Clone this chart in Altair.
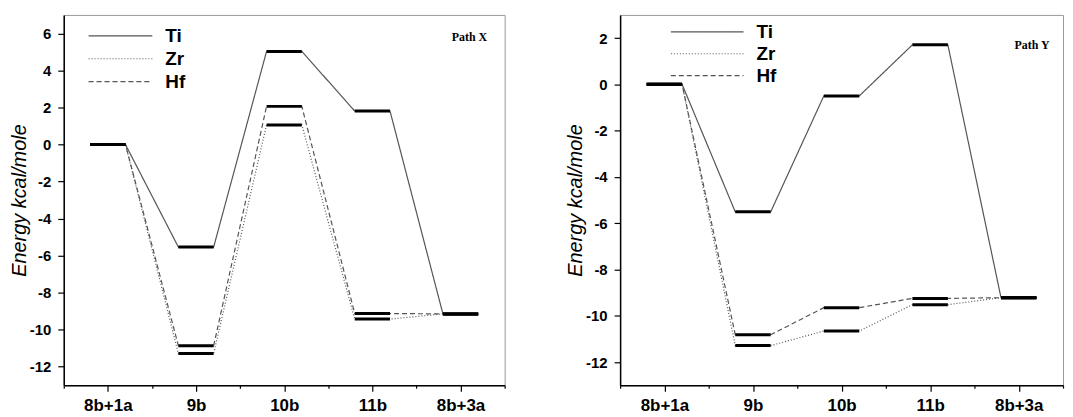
import json
import altair as alt
import pandas as pd

categories = ["8b+1a", "9b", "10b", "11b", "8b+3a"]
series_names = ["Ti", "Zr", "Hf"]

pathX_Ti = [0.0, -5.54, 5.03, 1.81, -9.15]
pathX_Zr = [0.0, -11.29, 1.06, -9.43, -9.15]
pathX_Hf = [0.0, -10.87, 2.06, -9.13, -9.15]

pathY_Ti = [0.0, -5.51, -0.50, 1.71, -9.22]
pathY_Zr = [0.0, -11.29, -10.66, -9.52, -9.22]
pathY_Hf = [0.0, -10.82, -9.65, -9.25, -9.22]

panel_labels = ["Path X", "Path Y"]
label_x = [5.1, 5.15]
label_y = [5.8, 1.7]

HALF = 0.2
FONT = "Liberation Sans"


def build(series):
    line_rows, level_rows = [], []
    for name, vals in series.items():
        for i, v in enumerate(vals):
            c = i + 1
            line_rows.append({"series": name, "x": c - HALF, "y": v, "ord": 2 * i})
            line_rows.append({"series": name, "x": c + HALF, "y": v, "ord": 2 * i + 1})
            level_rows.append({"series": name, "x": c - HALF, "x2": c + HALF, "y": v})
    return pd.DataFrame(line_rows), pd.DataFrame(level_rows)


cat_js = json.dumps(categories)
x_axis = alt.Axis(
    values=[0.5 + 0.5 * k for k in range(11)],
    labelExpr=f"datum.value % 1 === 0 ? {cat_js}[datum.value - 1] : ''",
    tickSize={"condition": {"test": "datum.value % 1 === 0", "value": 6}, "value": 3},
    title=None,
    grid=False,
    labelFont=FONT, labelFontSize=17, labelFontWeight="bold", labelColor="black",
    labelPadding=6, labelFlush=False,
    domainColor="black", domainWidth=1.5, tickColor="black", tickWidth=1.2,
)


def y_axis(lo, hi):
    return alt.Axis(
        values=list(range(lo, hi + 1)),
        labelExpr="datum.value % 2 === 0 ? '' + datum.value : ''",
        tickSize={"condition": {"test": "datum.value % 2 === 0", "value": 6}, "value": 3},
        title="Energy kcal/mole",
        titleFont=FONT, titleFontSize=20, titleFontStyle="italic", titleFontWeight="normal",
        titleColor="black", titlePadding=0,
        grid=False,
        labelFont=FONT, labelFontSize=15, labelFontWeight="bold", labelColor="black",
        labelPadding=7, labelFlush=False,
        domainColor="black", domainWidth=1.5, tickColor="black", tickWidth=1.2,
    )


def panel(series, ydom, yticks, width, label, lx, ly, leg_x, leg_y, sym_w, clip_h, row_pad):
    lines, levels = build(series)
    xs = alt.Scale(domain=[0.5, 5.5], nice=False, zero=False)
    ys = alt.Scale(domain=ydom, nice=False, zero=False)
    legend = alt.Legend(
        orient="none", legendX=leg_x, legendY=leg_y, title=None,
        symbolType="stroke", symbolSize=sym_w * sym_w, symbolStrokeWidth=1.2,
        symbolStrokeColor="#555", labelFont=FONT, labelFontSize=19,
        labelFontWeight="bold", labelColor="black", labelOffset=12,
        clipHeight=clip_h, rowPadding=row_pad, padding=0,
    )
    line_layer = alt.Chart(lines).mark_line(color="#555", strokeWidth=1.2).encode(
        x=alt.X("x:Q", scale=xs, axis=x_axis),
        y=alt.Y("y:Q", scale=ys, axis=y_axis(*yticks)),
        strokeDash=alt.StrokeDash(
            "series:N",
            scale=alt.Scale(domain=series_names, range=[[1, 0], [1, 2], [5, 3]]),
            legend=legend,
        ),
        order="ord:Q",
        detail="series:N",
    )
    level_layer = alt.Chart(levels).mark_rule(color="black", strokeWidth=3).encode(
        x=alt.X("x:Q", scale=xs), x2="x2:Q", y=alt.Y("y:Q", scale=ys)
    )
    txt = alt.Chart(pd.DataFrame({"t": [label], "x": [lx], "y": [ly]})).mark_text(
        font="Liberation Serif", fontSize=12, fontWeight="bold", color="black"
    ).encode(x=alt.X("x:Q", scale=xs), y=alt.Y("y:Q", scale=ys), text="t:N")
    return alt.layer(line_layer, level_layer, txt).properties(width=width, height=372)


left = panel({"Ti": pathX_Ti, "Zr": pathX_Zr, "Hf": pathX_Hf}, [-13, 7], (-12, 6), 443,
             panel_labels[0], label_x[0], label_y[0], 24, 11, 64, 20, 3)
right = panel({"Ti": pathY_Ti, "Zr": pathY_Zr, "Hf": pathY_Hf}, [-13, 3], (-12, 2), 445,
              panel_labels[1], label_x[1], label_y[1], 50, 8, 73, 18, 3)

chart = alt.hconcat(left, right, spacing=58).resolve_scale(strokeDash="independent").configure_view(
    stroke="#999", strokeWidth=1
).properties(padding={"left": 0, "top": 5, "right": 0, "bottom": 0})

chart.save("out.html", embed_options={"renderer": "svg", "actions": False})
